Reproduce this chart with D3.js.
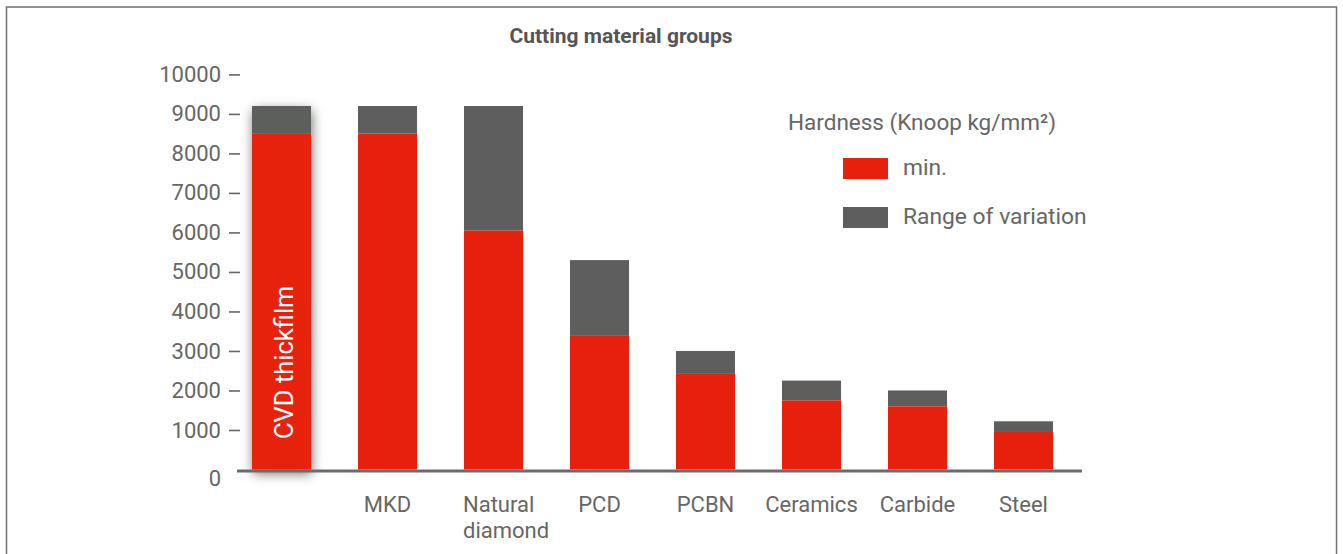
<!DOCTYPE html>
<html>
<head>
<meta charset="utf-8">
<script src="https://cdn.jsdelivr.net/npm/d3@7"></script>
<style>
  body { margin: 0; background: #fff; }
  svg { display: block; font-family: Roboto, "Noto Sans", sans-serif; }
  .tick text { fill: #666; }
</style>
</head>
<body>
<div id="chart"></div>
<script>
// hardness values (Knoop kg/mm2)
var categories = ["CVD thickfilm", "MKD", "Natural diamond", "PCD", "PCBN", "Ceramics", "Carbide", "Steel"];
var minValues = [8500, 8500, 6050, 3400, 2420, 1750, 1600, 950];
var maxValues = [9200, 9200, 9200, 5300, 3000, 2250, 2000, 1220];
var yTicks = [0, 1000, 2000, 3000, 4000, 5000, 6000, 7000, 8000, 9000, 10000];
var legendItems = ["min.", "Range of variation"];

var width = 1343, height = 554;
var red = "#e6200c", grey = "#5d5e5d";

var svg = d3.select("#chart").append("svg")
  .attr("width", width)
  .attr("height", height);

var defs = svg.append("defs");
var shadow = defs.append("filter").attr("id", "shadow")
  .attr("x", "-50%").attr("y", "-20%").attr("width", "200%").attr("height", "140%");
shadow.append("feDropShadow")
  .attr("dx", 1).attr("dy", 4).attr("stdDeviation", 6)
  .attr("flood-color", "#000").attr("flood-opacity", 0.55);

// frame
svg.append("path")
  .attr("d", "M6.5," + height + "V7H1336.5V" + height)
  .attr("fill", "none")
  .attr("stroke", "#707070")
  .attr("stroke-width", 1.5);

var x = d3.scaleBand()
  .domain(categories)
  .range([228.5, 1076.5])
  .paddingInner(0.443)
  .paddingOuter(0.2215);

var y = d3.scaleLinear().domain([0, 10000]).range([469.5, 74.4]);

// title
svg.append("text")
  .attr("x", 621).attr("y", 43)
  .attr("text-anchor", "middle")
  .attr("font-size", 21).attr("font-weight", "bold")
  .attr("fill", "#555")
  .text("Cutting material groups");

// y axis
var yAxis = svg.append("g")
  .attr("transform", "translate(240,0)")
  .call(d3.axisLeft(y).tickValues(yTicks).tickSize(11).tickPadding(8).tickFormat(d3.format("d")));
yAxis.select(".domain").remove();
yAxis.selectAll(".tick line").attr("stroke", "#666").attr("stroke-width", 1.6);
yAxis.selectAll(".tick text").attr("font-size", 22).attr("font-family", "Roboto, sans-serif");
yAxis.selectAll(".tick").filter(function (d) { return d === 0; })
  .each(function () {
    d3.select(this).select("line").remove();
    d3.select(this).select("text").attr("dy", "0.72em").attr("x", -19);
  });

var data = categories.map(function (c, i) {
  return { name: c, min: minValues[i], max: maxValues[i] };
});

var bars = svg.append("g").selectAll("g").data(data).enter().append("g")
  .attr("filter", function (d, i) { return i === 0 ? "url(#shadow)" : null; });

bars.append("rect")
  .attr("x", function (d) { return x(d.name); })
  .attr("y", function (d) { return y(d.max); })
  .attr("width", x.bandwidth())
  .attr("height", function (d) { return y(d.min) - y(d.max); })
  .attr("fill", grey);

bars.append("rect")
  .attr("x", function (d) { return x(d.name); })
  .attr("y", function (d) { return y(d.min); })
  .attr("width", x.bandwidth())
  .attr("height", function (d) { return y(0) - y(d.min); })
  .attr("fill", red);

// label inside the first bar
svg.append("text")
  .attr("transform", "translate(" + (x(categories[0]) + x.bandwidth() / 2 + 11) + ",439) rotate(-90)")
  .attr("font-size", 25.5)
  .attr("fill", "#fff")
  .text(categories[0]);

// x axis line
svg.append("line")
  .attr("x1", 237).attr("x2", 1082)
  .attr("y1", y(0) + 1.5).attr("y2", y(0) + 1.5)
  .attr("stroke", "#6b6b6b")
  .attr("stroke-width", 3);

// category labels under the bars
var labels = svg.append("g").selectAll("text").data(categories.slice(1)).enter().append("text")
  .attr("font-size", 22)
  .attr("fill", "#666")
  .attr("text-anchor", function (d) { return d.indexOf(" ") > 0 ? "start" : "middle"; })
  .attr("transform", function (d) {
    var px = d.indexOf(" ") > 0 ? x(d) - 1 : x(d) + x.bandwidth() / 2;
    return "translate(" + px + ",512)";
  });
labels.each(function (d) {
  var t = d3.select(this);
  d.split(" ").forEach(function (w, k) {
    t.append("tspan").attr("x", 0).attr("dy", k === 0 ? 0 : 26).text(w);
  });
});

// legend
var legend = svg.append("g");
legend.append("text")
  .attr("x", 788).attr("y", 130)
  .attr("font-size", 22.5)
  .attr("fill", "#666")
  .text("Hardness (Knoop kg/mm²)");

var items = legend.selectAll("g.item").data(legendItems).enter().append("g")
  .attr("class", "item")
  .attr("transform", function (d, i) { return "translate(843," + (158 + i * 49) + ")"; });
items.append("rect")
  .attr("width", 45).attr("height", 21)
  .attr("fill", function (d, i) { return i === 0 ? red : grey; });
items.append("text")
  .attr("x", 60).attr("y", 17)
  .attr("font-size", 22.8)
  .attr("fill", "#666")
  .text(function (d) { return d; });
</script>
</body>
</html>
